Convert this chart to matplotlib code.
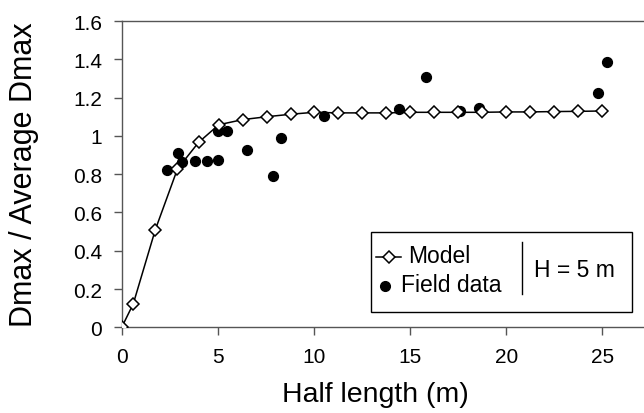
import matplotlib
matplotlib.use("Agg")
import matplotlib.pyplot as plt
from matplotlib.lines import Line2D
from matplotlib.patches import Rectangle

plt.rcParams['font.family'] = ['Liberation Sans', 'DejaVu Sans']

# Model curve
model_x = [0, 0.6, 1.75, 2.9, 4.0, 5.05, 6.3, 7.55, 8.8, 10.0, 11.25, 12.5, 13.75,
           15.0, 16.25, 17.5, 18.75, 20.0, 21.25, 22.5, 23.75, 25.0]
model_y = [0, 0.122, 0.51, 0.827, 0.966, 1.058, 1.085, 1.10, 1.113, 1.123, 1.12, 1.12, 1.12,
           1.123, 1.123, 1.123, 1.123, 1.125, 1.125, 1.127, 1.128, 1.13]

# Field data
field_x = [2.38, 2.95, 3.16, 3.8, 4.43, 5.0, 5.0, 5.5, 6.5, 7.89, 8.29, 10.51,
           14.42, 15.81, 17.59, 18.6, 24.77, 25.23]
field_y = [0.822, 0.911, 0.866, 0.868, 0.868, 0.876, 1.027, 1.027, 0.926, 0.792, 0.987, 1.106,
           1.14, 1.31, 1.132, 1.144, 1.223, 1.384]

xticks = [0, 5, 10, 15, 20, 25]
yticks = [0, 0.2, 0.4, 0.6, 0.8, 1.0, 1.2, 1.4, 1.6]
ytick_labels = ['0', '0.2', '0.4', '0.6', '0.8', '1', '1.2', '1.4', '1.6']

W, H = 644, 414
fig = plt.figure(figsize=(W / 100, H / 100), dpi=100)
ax = fig.add_axes([121.7 / W, 1 - 328.3 / H, 1 - 121.7 / W, (328.3 - 22) / H])

ax.scatter(field_x, field_y, s=50, color='black', zorder=2)
ax.plot(model_x, model_y, color='black', lw=1.1, marker='D', ms=6.5,
        mfc='white', mec='black', mew=1.1, zorder=3)

ax.set_xlim(0, 27.17)
ax.set_ylim(0, 1.6)
ax.set_xticks(xticks)
ax.set_yticks(yticks)
ax.set_yticklabels(ytick_labels)

spine_c = '#555555'
for s in ['left', 'bottom', 'top']:
    ax.spines[s].set_color(spine_c)
    ax.spines[s].set_linewidth(1.0)
ax.spines['right'].set_visible(False)
ax.tick_params(axis='both', direction='out', length=6, width=1.0, color=spine_c,
               labelsize=15, labelcolor='black')
ax.tick_params(axis='x', pad=8)
ax.tick_params(axis='y', pad=8)

ax.set_xlabel('Half length (m)', fontsize=20.5)
ax.xaxis.set_label_coords(0.4863, -0.175)
ax.set_ylabel('Dmax / Average Dmax', fontsize=22)
ax.yaxis.set_label_coords(-0.158, 0.5)


def fx(px):
    return px / W


def fy(py):
    return 1 - py / H


# Legend box
fig.add_artist(Rectangle((fx(370.7), fy(312.7)), fx(632) - fx(370.7), fy(233.3) - fy(312.7),
                         transform=fig.transFigure, fill=True, facecolor='white',
                         edgecolor='black', lw=1.0, zorder=5))
fig.add_artist(Line2D([fx(521.5), fx(521.5)], [fy(243), fy(295)], transform=fig.transFigure,
                      color='black', lw=1.0, zorder=6))
# Model handle
fig.add_artist(Line2D([fx(376), fx(401)], [fy(257.5), fy(257.5)], transform=fig.transFigure,
                      color='black', lw=1.1, zorder=6))
fig.add_artist(Line2D([fx(389)], [fy(257.5)], transform=fig.transFigure, marker='D', ms=6.5,
                      mfc='white', mec='black', mew=1.1, zorder=7))
fig.text(fx(408.5), fy(263.3), 'Model', fontsize=16.5, ha='left', va='baseline', zorder=7)
# Field data handle
fig.add_artist(Line2D([fx(385)], [fy(286.5)], transform=fig.transFigure, marker='o', ms=7,
                      mfc='black', mec='black', zorder=7))
fig.text(fx(401), fy(292.3), 'Field data', fontsize=16.5, ha='left', va='baseline', zorder=7)
fig.text(fx(534), fy(277.3), 'H = 5 m', fontsize=16.5, ha='left', va='baseline', zorder=7)

fig.savefig('out.png', dpi=100)
